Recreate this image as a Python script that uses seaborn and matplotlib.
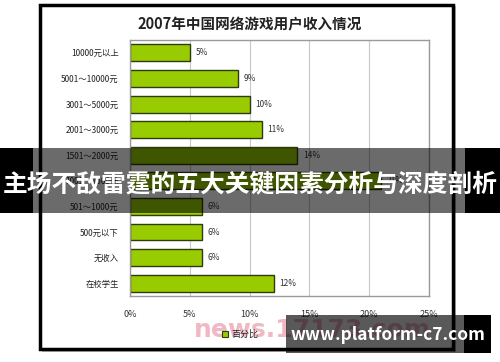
import numpy as np
import pandas as pd
import matplotlib
matplotlib.use("Agg")
import matplotlib.pyplot as plt
import seaborn as sns
from matplotlib.patches import Rectangle

# income groups (top to bottom) and share of users in %
income_groups = ["10000元以上", "5001～10000元", "3001～5000元", "2001～3000元",
                 "1501～2000元", "1001～1500元", "501～1000元", "500元以下",
                 "无收入", "在校学生"]
share_pct = [5, 9, 10, 11, 14, 21, 6, 6, 6, 12]
x_ticks = [0, 5, 10, 15, 20, 25]
x_tick_labels = ["0%", "5%", "10%", "15%", "20%", "25%"]

df = pd.DataFrame({"group": income_groups, "share": share_pct})

sns.set_style("white")
plt.rcParams["font.family"] = ["Noto Sans CJK SC", "DejaVu Sans"]

fig = plt.figure(figsize=(5, 3.62), dpi=100)
fig.patch.set_facecolor("white")

# outer frame with a soft shadow
fig.patches.append(Rectangle((42 / 500, 1 - 352 / 362), 414 / 500, 346 / 362,
                             transform=fig.transFigure, facecolor="#bbbbbb",
                             edgecolor="none", zorder=-2))
fig.patches.append(Rectangle((40 / 500, 1 - 349 / 362), 413 / 500, 344 / 362,
                             transform=fig.transFigure, facecolor="white",
                             edgecolor="black", linewidth=2.5, zorder=-1))

ax = fig.add_axes([0.26, 0.1823, 0.598, 0.707])
ax.set_zorder(1)
sns.barplot(data=df, x="share", y="group", orient="h", color="#99cc00",
            edgecolor="#2e3a10", linewidth=1.0, width=0.66, saturation=1, ax=ax)

ax.set_xlim(0, 25)
ax.set_ylim(9.5, -0.5)
ax.set_xticks(x_ticks)
ax.set_xticklabels(x_tick_labels, fontsize=6.5, color="#333333")
ax.tick_params(axis="y", labelsize=6, colors="#222222", length=0, pad=8)
ax.tick_params(axis="x", length=0, pad=10)
ax.set_xlabel("")
ax.set_ylabel("")
ax.grid(axis="x", color="#c8c8c8", linewidth=0.8)
ax.set_axisbelow(True)
for s in ax.spines.values():
    s.set_color("#9a9a9a")
    s.set_linewidth(1.0)

for i, v in enumerate(share_pct):
    ax.text(v + 0.5, i, f"{v}%", va="center", ha="left", fontsize=6,
            color="#333333")

fig.text(0.5, 1 - 24 / 362, "2007年中国网络游戏用户收入情况", ha="center",
         va="center", fontsize=10.5, fontweight="bold", color="#222222")

# faint source watermark
fig.text(0.625, 1 - 330 / 362, "news.17173.com", ha="center", va="center",
         fontsize=18, fontweight="bold", color="#f0b8c2", family="DejaVu Sans",
         zorder=2)

# legend
fig.patches.append(Rectangle((222 / 500, 1 - 337 / 362), 6 / 500, 6 / 362,
                             transform=fig.transFigure, facecolor="#99cc00",
                             edgecolor="#2e3a10", linewidth=0.8, zorder=3))
fig.text(231 / 500, 1 - 334 / 362, "百分比", ha="left", va="center",
         fontsize=6.5, color="#222222", zorder=3)

# overlay banner across the middle
fig.patches.append(Rectangle((0, 1 - 213 / 362), 33 / 500, 65 / 362,
                             transform=fig.transFigure, facecolor="black",
                             edgecolor="none", zorder=5))
fig.patches.append(Rectangle((465 / 500, 1 - 213 / 362), 35 / 500, 65 / 362,
                             transform=fig.transFigure, facecolor="black",
                             edgecolor="none", zorder=5))
fig.patches.append(Rectangle((33 / 500, 1 - 213 / 362), 432 / 500, 65 / 362,
                             transform=fig.transFigure, facecolor="black",
                             alpha=0.58, edgecolor="none", zorder=5))
fig.text(0.5, 1 - 184 / 362, "主场不敌雷霆的五大关键因素分析与深度剖析",
         ha="center", va="center", fontsize=17.8, fontweight="bold",
         color="white", zorder=6)

# site badge bottom right
fig.patches.append(Rectangle((286 / 500, 1 - 353 / 362), 178 / 500, 38 / 362,
                             transform=fig.transFigure, facecolor="black",
                             alpha=0.65, edgecolor="none", zorder=5))
fig.patches.append(Rectangle((464 / 500, 1 - 353 / 362), 27 / 500, 38 / 362,
                             transform=fig.transFigure, facecolor="black",
                             edgecolor="none", zorder=5))
fig.text(388 / 500, 1 - 335 / 362, "www.platform-c7.com", ha="center",
         va="center", fontsize=12.5, fontweight="bold", color="white", zorder=6)

fig.savefig("out.png", dpi=100)
